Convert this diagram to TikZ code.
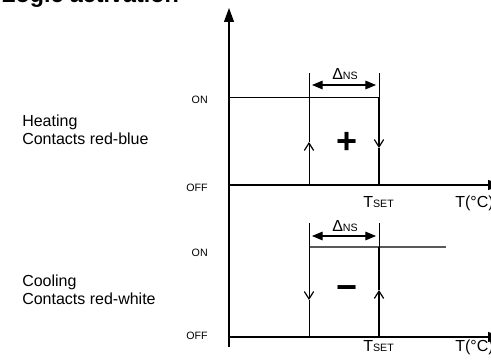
\documentclass[tikz,border=0pt]{standalone}
\usepackage{fontspec}
\setmainfont{Liberation Sans}
\usetikzlibrary{arrows.meta}
\begin{document}
\begin{tikzpicture}[x=0.75pt,y=-0.75pt,
  ax/.style={line width=0.8pt, -{Triangle[length=10.5pt,width=7.5pt]}},
  ln/.style={line width=0.75pt},
  thk/.style={line width=1.2pt},
  grayln/.style={line width=0.8pt, black!65},
  barb/.style={-{Straight Barb[length=5.5pt,width=7pt,line width=0.9pt]}},
  dimarr/.style={line width=0.8pt, {Triangle[length=8pt,width=6.5pt]}-{Triangle[length=8pt,width=6.5pt]}},
  lbl/.style={font=\fontsize{12}{14}\selectfont, inner sep=0pt, anchor=base west},
  sm/.style={font=\fontsize{8}{10}\selectfont, inner sep=0pt, anchor=base east},
  sign/.style={font=\bfseries\fontsize{27}{27}\selectfont, inner sep=0pt},
]
\useasboundingbox (0,0) rectangle (491,360);
\clip (0,0) rectangle (491,360);

% title (cut off at top)
\node[inner sep=0pt, anchor=base west, font=\bfseries\fontsize{17.5}{20}\selectfont] (title) at (1,3) {Logic activation};

% axes
\coordinate (yb) at (229,347);
\coordinate (yt) at (229,8);
\draw[ax] (yb) -- (yt);
\coordinate (h0) at (229,185);
\coordinate (hx) at (502,185);
\draw[ax] (h0) -- (hx);
\coordinate (c0) at (229,337);
\coordinate (cx) at (502,337);
\draw[ax] (c0) -- (cx);

% ---- heating ----
\coordinate (hon0) at (229,97);
\coordinate (hon1) at (379,97);
\draw[ln] (hon0) -- (hon1);
\coordinate (hLb) at (309,185);
\coordinate (hLm) at (309,142);
\coordinate (hLt) at (309,73);
\draw[ln,barb] (hLb) -- (hLm);
\draw[ln] (hLm) -- (hLt);
\coordinate (hRt) at (379,73);
\coordinate (hRm) at (379,148);
\coordinate (hRb) at (379,185);
\draw[ln] (hRt) -- (hon1);
\draw[thk,barb] (hon1) -- (hRm);
\draw[thk] (hRm) -- (hRb);
\coordinate (hd0) at (312,85);
\coordinate (hd1) at (376,85);
\draw[dimarr] (hd0) -- (hd1);
\node[lbl] (hdl) at (332,79) {Δ{\fontsize{8}{10}\selectfont NS}};
\node[sign] (plus) at (347,143) {+};
\node[lbl] (hts) at (363,207) {T{\fontsize{8}{10}\selectfont SET}};
\node[lbl] (htc) at (455,207) {T(°C)};
\node[sm] (hon) at (208,103) {ON};
\node[sm] (hoff) at (208,191) {OFF};
\node[lbl] (heat1) at (22,126) {Heating};
\node[lbl] (heat2) at (22,144) {Contacts red-blue};

% ---- cooling ----
\coordinate (con0) at (309,247);
\coordinate (con1) at (446,247);
\coordinate (conm) at (379,247);
\draw[grayln] (con0) -- (con1);
\coordinate (cLt) at (309,223);
\coordinate (cLm) at (309,300);
\coordinate (cLb) at (309,337);
\draw[ln,barb] (cLt) -- (cLm);
\draw[ln] (cLm) -- (cLb);
\coordinate (cRt) at (379,223);
\coordinate (cRm) at (379,290);
\coordinate (cRb) at (379,337);
\draw[ln] (cRt) -- (conm);
\draw[thk,barb] (cRb) -- (cRm);
\draw[thk] (cRm) -- (conm);
\coordinate (cd0) at (312,236);
\coordinate (cd1) at (376,236);
\draw[dimarr] (cd0) -- (cd1);
\node[lbl] (cdl) at (332,231) {Δ{\fontsize{8}{10}\selectfont NS}};
\node[sign] (minus) at (347,293) {−};
\node[lbl] (cts) at (363,351) {T{\fontsize{8}{10}\selectfont SET}};
\node[lbl] (ctc) at (455,351) {T(°C)};
\node[sm] (con) at (208,256) {ON};
\node[sm] (coff) at (208,339) {OFF};
\node[lbl] (cool1) at (22,286) {Cooling};
\node[lbl] (cool2) at (22,304) {Contacts red-white};
\end{tikzpicture}
\end{document}
